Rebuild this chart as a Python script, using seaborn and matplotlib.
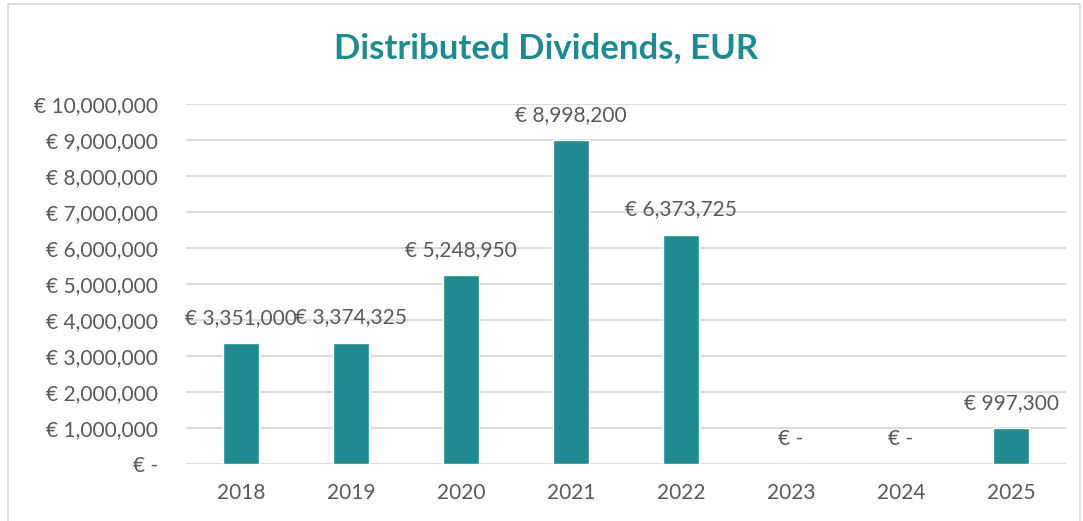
import matplotlib
matplotlib.use("Agg")
import matplotlib.pyplot as plt
import seaborn as sns
import pandas as pd
from matplotlib.patches import Rectangle

years = ["2018", "2019", "2020", "2021", "2022", "2023", "2024", "2025"]
dividends = [3351000, 3374325, 5248950, 8998200, 6373725, 0, 0, 997300]
yticks = [0, 1000000, 2000000, 3000000, 4000000, 5000000, 6000000, 7000000, 8000000, 9000000, 10000000]

def eur(v):
    return "€ -" if v == 0 else f"€ {v:,.0f}"

sns.set_theme(style="white")
plt.rcParams['font.family'] = ['Lato', 'DejaVu Sans']

df = pd.DataFrame({"year": years, "value": dividends})
teal = "#1F8A90"
txt = "#595959"

fig = plt.figure(figsize=(10.83, 5.21), dpi=100)
ax = fig.add_axes([186/1083, 1 - 464/521, 880/1083, 360/521])
sns.barplot(data=df, x="year", y="value", color=teal, width=0.33, saturation=1, ax=ax, zorder=3)

ax.set_ylim(0, 10000000)
ax.set_yticks(yticks)
ax.set_yticklabels([eur(v) for v in yticks])
ax.yaxis.grid(True, color="#D9D9D9", linewidth=1.3, zorder=0)
ax.set_axisbelow(True)
for s in ax.spines.values():
    s.set_visible(False)
ax.tick_params(axis="both", length=0, labelsize=15, labelcolor=txt)
ax.tick_params(axis="y", pad=20)
ax.tick_params(axis="x", pad=14)
ax.set_xlabel("")
ax.set_ylabel("")

for i, v in enumerate(dividends):
    ax.annotate(eur(v), (i, v), xytext=(0, 18), textcoords="offset points",
                ha="center", va="center", fontsize=15, color=txt, zorder=4)

fig.text(546/1083, 1 - 48/521, "Distributed Dividends, EUR", ha="center", va="center",
         fontsize=25, fontweight="bold", color=teal)

fig.patches.append(Rectangle((8/1083, -0.05), 1 - 11/1083, 1 - 4/521 + 0.05, transform=fig.transFigure,
                             fill=False, edgecolor="#D9D9D9", linewidth=1.2))

fig.savefig("out.png", dpi=100)
